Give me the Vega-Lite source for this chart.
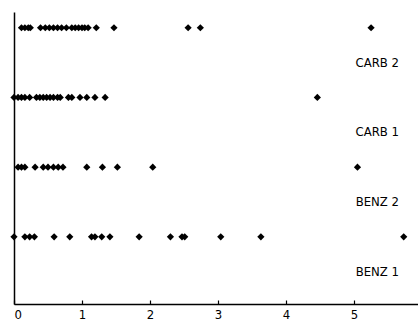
{
  "$schema": "https://vega.github.io/schema/vega-lite/v6.json",
  "width": 404,
  "height": 292,
  "autosize": {"type": "none"},
  "padding": {"left": 14, "top": 12, "right": 0, "bottom": 21},
  "background": "white",
  "config": {"view": {"stroke": null}, "font": "DejaVu Sans Condensed"},
  "datasets": {
    "pts": [
      {"group": "CARB 2", "value": 0.11}, {"group": "CARB 2", "value": 0.16}, {"group": "CARB 2", "value": 0.21}, {"group": "CARB 2", "value": 0.24},
      {"group": "CARB 2", "value": 0.39}, {"group": "CARB 2", "value": 0.46}, {"group": "CARB 2", "value": 0.52}, {"group": "CARB 2", "value": 0.58},
      {"group": "CARB 2", "value": 0.64}, {"group": "CARB 2", "value": 0.70}, {"group": "CARB 2", "value": 0.77}, {"group": "CARB 2", "value": 0.85},
      {"group": "CARB 2", "value": 0.90}, {"group": "CARB 2", "value": 0.95}, {"group": "CARB 2", "value": 1.00}, {"group": "CARB 2", "value": 1.04},
      {"group": "CARB 2", "value": 1.09}, {"group": "CARB 2", "value": 1.21}, {"group": "CARB 2", "value": 1.47}, {"group": "CARB 2", "value": 2.56},
      {"group": "CARB 2", "value": 2.74}, {"group": "CARB 2", "value": 5.25},
      {"group": "CARB 1", "value": 0.0}, {"group": "CARB 1", "value": 0.06}, {"group": "CARB 1", "value": 0.11}, {"group": "CARB 1", "value": 0.16},
      {"group": "CARB 1", "value": 0.23}, {"group": "CARB 1", "value": 0.33}, {"group": "CARB 1", "value": 0.38}, {"group": "CARB 1", "value": 0.43},
      {"group": "CARB 1", "value": 0.48}, {"group": "CARB 1", "value": 0.53}, {"group": "CARB 1", "value": 0.58}, {"group": "CARB 1", "value": 0.64},
      {"group": "CARB 1", "value": 0.68}, {"group": "CARB 1", "value": 0.80}, {"group": "CARB 1", "value": 0.85}, {"group": "CARB 1", "value": 0.97},
      {"group": "CARB 1", "value": 1.07}, {"group": "CARB 1", "value": 1.19}, {"group": "CARB 1", "value": 1.34}, {"group": "CARB 1", "value": 4.46},
      {"group": "BENZ 2", "value": 0.06}, {"group": "BENZ 2", "value": 0.11}, {"group": "BENZ 2", "value": 0.16}, {"group": "BENZ 2", "value": 0.31},
      {"group": "BENZ 2", "value": 0.43}, {"group": "BENZ 2", "value": 0.50}, {"group": "BENZ 2", "value": 0.58}, {"group": "BENZ 2", "value": 0.65},
      {"group": "BENZ 2", "value": 0.72}, {"group": "BENZ 2", "value": 1.07}, {"group": "BENZ 2", "value": 1.30}, {"group": "BENZ 2", "value": 1.52},
      {"group": "BENZ 2", "value": 2.04}, {"group": "BENZ 2", "value": 5.05},
      {"group": "BENZ 1", "value": 0.0}, {"group": "BENZ 1", "value": 0.16}, {"group": "BENZ 1", "value": 0.23}, {"group": "BENZ 1", "value": 0.30},
      {"group": "BENZ 1", "value": 0.59}, {"group": "BENZ 1", "value": 0.82}, {"group": "BENZ 1", "value": 1.14}, {"group": "BENZ 1", "value": 1.19},
      {"group": "BENZ 1", "value": 1.29}, {"group": "BENZ 1", "value": 1.41}, {"group": "BENZ 1", "value": 1.84}, {"group": "BENZ 1", "value": 2.30},
      {"group": "BENZ 1", "value": 2.47}, {"group": "BENZ 1", "value": 2.51}, {"group": "BENZ 1", "value": 3.04}, {"group": "BENZ 1", "value": 3.63},
      {"group": "BENZ 1", "value": 5.73}
    ],
    "labels": [
      {"group": "CARB 2"}, {"group": "CARB 1"}, {"group": "BENZ 2"}, {"group": "BENZ 1"}
    ]
  },
  "encoding": {
    "y": {
      "field": "group", "type": "nominal",
      "sort": ["CARB 2", "CARB 1", "BENZ 2", "BENZ 1"],
      "scale": {"type": "point", "padding": 0.595, "align": 0.19},
      "axis": {"title": null, "labels": false, "ticks": false, "grid": false, "domainColor": "black", "domainWidth": 1.5}
    }
  },
  "layer": [
    {
      "data": {"name": "pts"},
      "mark": {"type": "point", "shape": "diamond", "filled": true, "color": "black", "size": 52, "opacity": 1},
      "encoding": {
        "x": {
          "field": "value", "type": "quantitative",
          "scale": {"domain": [0, 5.94], "nice": false, "zero": true},
          "axis": {
            "title": null, "values": [0, 1, 2, 3, 4, 5], "format": "d", "grid": false,
            "domainColor": "black", "domainWidth": 1.5, "tickColor": "black", "tickSize": -4, "tickWidth": 1.2,
            "labelFontSize": 13, "labelColor": "black", "labelPadding": 8, "labelFont": "DejaVu Sans Condensed"
          }
        }
      }
    },
    {
      "data": {"name": "labels"},
      "mark": {"type": "text", "align": "right", "baseline": "middle", "dy": 35, "fontSize": 13, "font": "DejaVu Sans Condensed", "color": "black"},
      "encoding": {
        "x": {"datum": 5.66, "type": "quantitative"},
        "text": {"field": "group"}
      }
    }
  ]
}
